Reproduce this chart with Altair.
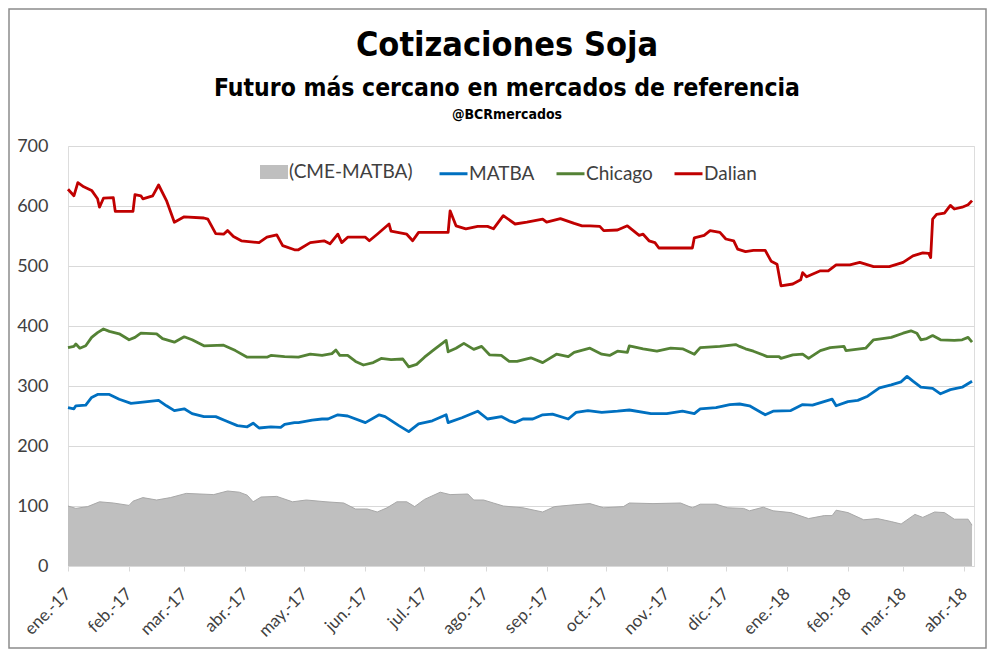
import altair as alt
import pandas as pd

# días desde 2017-01-01
dalian_dia = [0, 3, 5, 8, 12, 15, 16, 18, 23, 24, 33, 34, 37, 38, 43, 46, 50, 54, 59, 69, 71, 75, 79, 81, 84, 88, 97,
              101, 106, 109, 115, 117, 123, 130, 133, 137, 139, 142, 151, 153, 157, 163, 164, 172, 175, 178, 193, 194,
              197, 202, 208, 213, 216, 221, 227, 233, 241, 243, 250, 257, 261, 265, 270, 272, 279, 284, 290, 292, 295,
              298, 300, 317, 318, 323, 326, 331, 334, 338, 340, 344, 348, 354, 357, 360, 362, 368, 372, 373, 375, 382,
              386, 390, 397, 402, 409, 417, 424, 429, 434, 437, 438, 439, 441, 445, 448, 450, 454, 457, 459]
dalian_valor = [628, 617, 639, 632, 626, 612, 598, 613, 614, 591, 591, 619, 617, 612, 617, 635, 609, 573, 582, 580, 578,
                554, 553, 559, 549, 542, 539, 548, 552, 534, 527, 527, 539, 542, 537, 553, 539, 548, 548, 542, 553, 570,
                558, 553, 542, 556, 556, 592, 567, 562, 566, 566, 562, 584, 570, 573, 578, 573, 579, 571, 567, 567, 566,
                559, 560, 567, 551, 553, 542, 539, 530, 530, 547, 551, 559, 556, 545, 542, 528, 524, 526, 526, 508, 503,
                467, 470, 477, 489, 482, 492, 492, 502, 502, 506, 499, 499, 506, 517, 522, 521, 514, 578, 586, 588, 601,
                595, 598, 602, 609]

chicago_dia = [0, 3, 4, 6, 9, 12, 15, 18, 21, 26, 31, 34, 37, 45, 48, 54, 59, 63, 69, 79, 85, 91, 101, 103, 110, 117,
               123, 129, 134, 136, 138, 142, 146, 150, 155, 159, 164, 170, 173, 177, 181, 186, 192, 193, 197, 201, 206,
               210, 214, 220, 224, 228, 235, 241, 248, 254, 257, 265, 271, 275, 279, 284, 285, 292, 299, 306, 312, 318,
               321, 331, 339, 341, 344, 348, 355, 361, 362, 368, 373, 376, 382, 387, 394, 395, 405, 409, 418, 424, 428,
               431, 433, 436, 439, 443, 450, 454, 457, 459]
chicago_valor = [364, 366, 370, 363, 367, 381, 389, 395, 391, 387, 377, 381, 388, 387, 379, 373, 382, 377, 367, 368,
                 359, 348, 348, 351, 349, 348, 353, 351, 354, 360, 351, 351, 341, 335, 339, 346, 344, 345, 332, 336,
                 348, 361, 376, 357, 363, 371, 361, 366, 352, 351, 341, 341, 347, 339, 353, 349, 356, 363, 353, 351,
                 358, 356, 367, 362, 358, 363, 362, 353, 364, 366, 369, 366, 362, 358, 349, 349, 346, 352, 353, 346,
                 359, 364, 366, 359, 363, 377, 381, 388, 392, 388, 377, 379, 384, 377, 376, 377, 381, 373]

matba_dia = [0, 3, 4, 9, 12, 15, 21, 26, 32, 38, 46, 50, 54, 59, 63, 69, 75, 80, 86, 91, 94, 97, 103, 108, 110, 115,
             117, 124, 129, 132, 137, 142, 151, 158, 161, 168, 173, 178, 185, 192, 193, 200, 208, 213, 220, 224, 227,
             231, 236, 241, 246, 254, 258, 264, 271, 279, 285, 296, 304, 312, 318, 321, 329, 336, 341, 346, 354, 358,
             367, 373, 378, 383, 388, 390, 396, 401, 406, 412, 418, 423, 426, 429, 433, 439, 443, 448, 454, 459]
matba_valor = [264, 262, 267, 268, 281, 286, 286, 278, 271, 273, 276, 267, 259, 262, 254, 249, 249, 242, 234, 232, 238,
               230, 232, 231, 236, 239, 239, 243, 245, 245, 252, 250, 239, 252, 249, 234, 224, 237, 242, 252, 239, 247,
               258, 245, 249, 242, 239, 245, 245, 252, 253, 245, 256, 259, 256, 258, 260, 254, 254, 258, 254, 262, 264,
               269, 270, 267, 252, 258, 259, 269, 268, 273, 278, 267, 274, 276, 283, 297, 302, 307, 316, 308, 298, 296,
               287, 294, 298, 308]

dif_dia = [0, 4, 10, 16, 23, 31, 33, 38, 45, 52, 60, 67, 74, 81, 87, 91, 94, 98, 106, 114, 121, 131, 140, 146, 152,
           157, 162, 167, 172, 176, 181, 189, 194, 203, 206, 211, 216, 221, 231, 241, 247, 257, 265, 272, 282, 285,
           297, 311, 317, 321, 329, 335, 343, 346, 353, 358, 367, 376, 384, 388, 390, 396, 404, 411, 418, 423, 430,
           434, 440, 445, 450, 457, 459]
dif_valor = [100, 96, 99, 107, 105, 101, 108, 114, 110, 114, 121, 120, 119, 125, 123, 118, 107, 115, 116, 107, 110, 107,
             105, 95, 95, 90, 97, 107, 107, 99, 111, 123, 119, 120, 110, 110, 105, 100, 97, 90, 99, 102, 104, 97, 99,
             105, 104, 105, 97, 103, 103, 97, 96, 92, 98, 92, 89, 79, 84, 84, 93, 89, 77, 79, 74, 70, 86, 81, 90, 89,
             78, 78, 68]

series_lineas = ["MATBA", "Chicago", "Dalian"]
colores_lineas = ["#0070C0", "#548235", "#C00000"]
meses_es = ["ene.", "feb.", "mar.", "abr.", "may.", "jun.", "jul.", "ago.", "sep.", "oct.", "nov.", "dic."]
y_ticks = [0, 100, 200, 300, 400, 500, 600, 700]

base = pd.Timestamp("2017-01-01")


def serie(nombre, dias, valores):
    return pd.DataFrame({
        "fecha": [(base + pd.Timedelta(days=d)).strftime("%Y-%m-%d") for d in dias],
        "valor": valores,
        "serie": nombre,
    })


lineas = pd.concat([
    serie("MATBA", matba_dia, matba_valor),
    serie("Chicago", chicago_dia, chicago_valor),
    serie("Dalian", dalian_dia, dalian_valor),
], ignore_index=True)
area_df = serie("(CME-MATBA)", dif_dia, dif_valor)

W, H = 906, 420
FONT = "Lato"
TITLE_FONT = "Liberation Sans Narrow, DejaVu Sans Condensed, sans-serif"
LBL = "#404040"

meses = [alt.DateTime(year=2017 + (m // 12), month=(m % 12) + 1, date=1, utc=True) for m in range(16)]
label_expr = "[" + ",".join("'%s'" % m for m in meses_es) + "][utcmonth(datum.value)] + '-' + utcFormat(datum.value, '%y')"

x_enc = alt.X(
    "fecha:T",
    scale=alt.Scale(type="utc",
                    domain=[alt.DateTime(year=2017, month=1, date=1, utc=True),
                            alt.DateTime(year=2018, month=4, date=6, utc=True)]),
    axis=alt.Axis(values=meses, labelExpr=label_expr, labelAngle=-45, labelAlign="right",
                  labelBaseline="middle", labelFont=FONT, labelFontSize=17, labelColor=LBL,
                  tickSize=5, tickColor="#D9D9D9", domainColor="#D9D9D9", grid=False,
                  labelPadding=20, title=None, labelOverlap=False),
)
y_enc = alt.Y(
    "valor:Q",
    scale=alt.Scale(domain=[0, 700], nice=False),
    axis=alt.Axis(values=y_ticks, format="d", labelFont=FONT, labelFontSize=18, labelColor=LBL,
                  ticks=False, tickSize=0, domain=False, gridColor="#D9D9D9", gridWidth=1,
                  labelPadding=20, title=None),
)

marco = alt.Chart(pd.DataFrame({"k": [0]})).mark_rect(
    fill="transparent", stroke="#8C8C8C", strokeWidth=1.5
).encode(x=alt.value(-59), x2=alt.value(918), y=alt.value(-137), y2=alt.value(502))

area = alt.Chart(area_df).mark_area(opacity=1).encode(
    x=x_enc, y=y_enc,
    fill=alt.Fill("serie:N",
                  scale=alt.Scale(domain=["(CME-MATBA)"], range=["#BFBFBF"]),
                  legend=alt.Legend(title=None, orient="none", legendX=192, legendY=12,
                                    symbolType="M-1,-0.5H1V0.5H-1Z", symbolSize=784,
                                    symbolStrokeWidth=0, symbolOpacity=1,
                                    labelFont=FONT, labelFontSize=19, labelColor=LBL,
                                    labelOffset=1, padding=0)),
)

borde = alt.Chart(area_df).mark_line(strokeWidth=1, color="#A8A8A8").encode(x=x_enc, y=y_enc)

lin = alt.Chart(lineas).mark_line(strokeWidth=2.8, strokeJoin="round").encode(
    x=x_enc, y=y_enc,
    stroke=alt.Stroke("serie:N",
                      scale=alt.Scale(domain=series_lineas, range=colores_lineas),
                      legend=alt.Legend(title=None, orient="none", legendX=370, legendY=12,
                                        direction="horizontal", symbolType="stroke", symbolSize=784,
                                        symbolStrokeWidth=3, labelFont=FONT, labelFontSize=19,
                                        labelColor=LBL, labelOffset=0, columnPadding=15, padding=0)),
)

bcr = alt.Chart(pd.DataFrame({"t": ["@BCRmercados"]})).mark_text(
    font=TITLE_FONT, fontSize=14, fontWeight="bold", color="black", align="center", baseline="middle"
).encode(text="t:N", x=alt.value(439), y=alt.value(-31))

chart = alt.layer(marco, area, borde, lin, bcr).properties(
    width=W, height=H, padding=0,
    title=alt.TitleParams(
        text="Cotizaciones Soja",
        subtitle="Futuro más cercano en mercados de referencia",
        font=TITLE_FONT, fontSize=34, fontWeight="bold", color="black",
        subtitleFont=TITLE_FONT, subtitleFontSize=24.5, subtitleFontWeight="bold", subtitleColor="black",
        anchor="middle", frame="group", dx=-14, offset=-92, subtitlePadding=14,
    ),
).configure_view(stroke=None).configure(background="white")

chart.save("out.html", embed_options={"renderer": "svg", "actions": False})
